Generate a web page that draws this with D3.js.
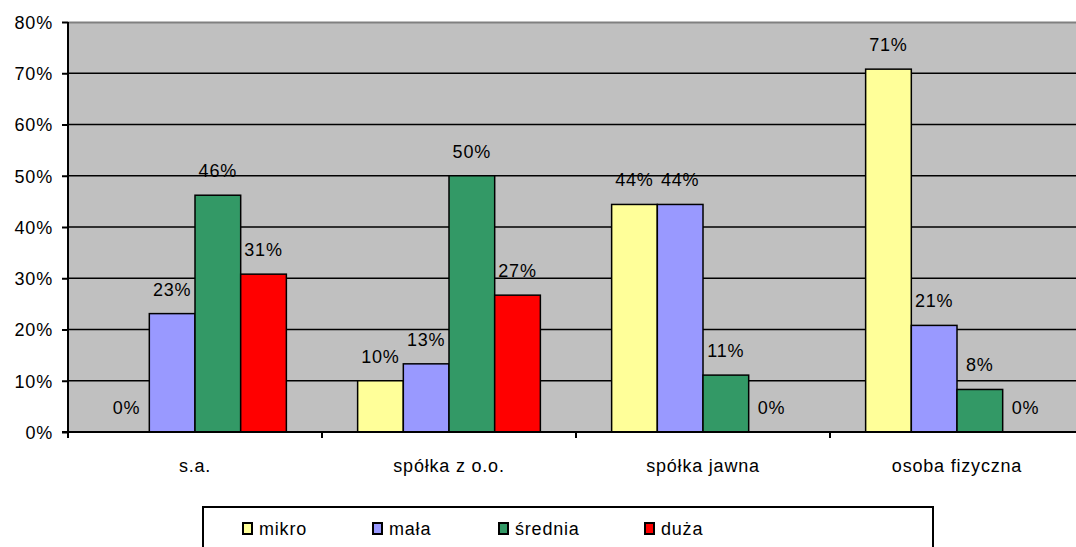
<!DOCTYPE html>
<meta charset="utf-8">
<title>forma prawna</title>
<style>
	body { margin: 0; background: #fff; }
	text { font-family: "Liberation Sans", Arial, sans-serif; font-size: 18px; letter-spacing: 0.8px; fill: #000; }
</style>
<svg id="chart"></svg>
<script src="https://d3js.org/d3.v7.min.js"></script>
<script>
// dane z wykresu
var categories = ["s.a.", "spółka z o.o.", "spółka jawna", "osoba fizyczna"];
var seriesNames = ["mikro", "mała", "średnia", "duża"];
var mikro   = [0, 10, 44.4, 70.8];
var mala    = [23.1, 13.3, 44.4, 20.8];
var srednia = [46.2, 50, 11.1, 8.3];
var duza    = [30.8, 26.7, 0, 0];
var yTicks  = [0, 10, 20, 30, 40, 50, 60, 70, 80];
var colors  = ["#ffff99", "#9999ff", "#339966", "#ff0000"];

var series = [mikro, mala, srednia, duza];

var width = 1076, height = 547;
var plotLeft = 68, plotRight = 1084, plotTop = 22, plotBottom = 432;

var svg = d3.select("#chart").attr("width", width).attr("height", height);

var x = d3.scaleBand().domain(categories).range([plotLeft, plotRight]).paddingInner(0).paddingOuter(0);
var xs = d3.scaleBand().domain(seriesNames).range([0, x.bandwidth()]).paddingInner(0).paddingOuter(0.78);
var y = d3.scaleLinear().domain([0, 80]).range([plotBottom, plotTop]);

// tło
svg.append("rect")
	.attr("x", plotLeft).attr("y", plotTop)
	.attr("width", plotRight - plotLeft).attr("height", plotBottom - plotTop)
	.attr("fill", "#c0c0c0");

svg.append("line")
	.attr("x1", plotLeft).attr("x2", plotRight)
	.attr("y1", plotTop + 0.5).attr("y2", plotTop + 0.5)
	.attr("stroke", "#808080").attr("stroke-width", 2);

// linie siatki
svg.append("g").selectAll("line")
	.data(yTicks.filter(d => d > 0 && d < 80))
	.enter().append("line")
	.attr("x1", plotLeft).attr("x2", plotRight)
	.attr("y1", d => y(d)).attr("y2", d => y(d))
	.attr("stroke", "#000").attr("stroke-width", 1.5);

// słupki
var groups = svg.append("g").selectAll("g")
	.data(categories)
	.enter().append("g")
	.attr("transform", d => "translate(" + x(d) + ",0)");

groups.each(function(cat, ci) {
	var g = d3.select(this);
	seriesNames.forEach(function(s, si) {
		var v = series[si][ci];
		if (v > 0) {
			g.append("rect")
				.attr("x", xs(s))
				.attr("y", y(v))
				.attr("width", xs.bandwidth())
				.attr("height", y(0) - y(v))
				.attr("fill", colors[si])
				.attr("stroke", "#000")
				.attr("stroke-width", 1.5);
		}
		g.append("text")
			.attr("x", xs(s) + xs.bandwidth() / 2)
			.attr("y", y(v) - 18)
			.attr("text-anchor", "middle")
			.text(Math.round(v) + "%");
	});
});

// oś Y
var yAxis = d3.axisLeft(y).tickValues(yTicks).tickSize(6).tickFormat(d => d + "%");
var ya = svg.append("g").attr("transform", "translate(" + plotLeft + ",0)").call(yAxis);
ya.select(".domain").remove();
ya.selectAll(".tick line").attr("stroke", "#000").attr("stroke-width", 2);
ya.selectAll(".tick text").attr("x", -15).attr("dy", "0.36em")
	.style("font-size", "18px").style("font-family", "'Liberation Sans', Arial, sans-serif");

svg.append("line")
	.attr("x1", plotLeft).attr("x2", plotLeft)
	.attr("y1", plotTop).attr("y2", plotBottom + 6)
	.attr("stroke", "#000").attr("stroke-width", 2);

// oś X
svg.append("line")
	.attr("x1", plotLeft - 6).attr("x2", plotRight)
	.attr("y1", plotBottom).attr("y2", plotBottom)
	.attr("stroke", "#000").attr("stroke-width", 2);

svg.append("g").selectAll("line")
	.data(categories.slice(1))
	.enter().append("line")
	.attr("x1", d => x(d)).attr("x2", d => x(d))
	.attr("y1", plotBottom).attr("y2", plotBottom + 6)
	.attr("stroke", "#000").attr("stroke-width", 2);

svg.append("g").selectAll("text")
	.data(categories)
	.enter().append("text")
	.attr("x", d => x(d) + x.bandwidth() / 2)
	.attr("y", 472)
	.attr("text-anchor", "middle")
	.text(d => d);

// legenda
svg.append("rect")
	.attr("x", 203).attr("y", 507)
	.attr("width", 730).attr("height", 50)
	.attr("fill", "#fff").attr("stroke", "#000").attr("stroke-width", 2);

var legendX = [243, 373, 499, 645];
var legend = svg.append("g").selectAll("g")
	.data(seriesNames)
	.enter().append("g")
	.attr("transform", (d, i) => "translate(" + legendX[i] + ",523)");

legend.append("rect")
	.attr("width", 9).attr("height", 11)
	.attr("fill", (d, i) => colors[i])
	.attr("stroke", "#000").attr("stroke-width", 2);

legend.append("text")
	.attr("x", 16).attr("y", 12)
	.text(d => d);
</script>
